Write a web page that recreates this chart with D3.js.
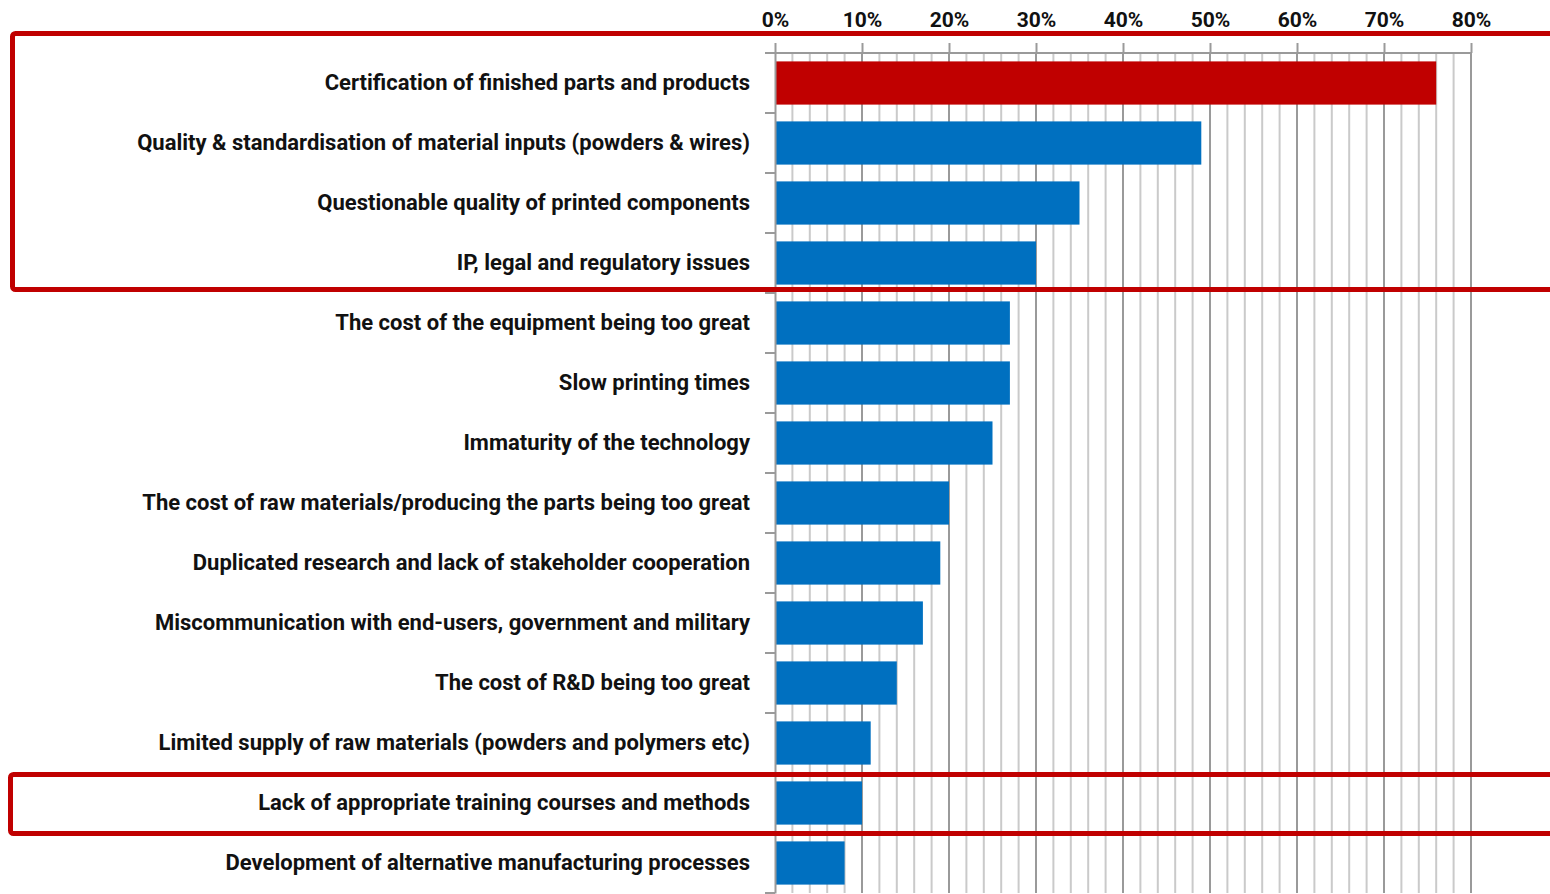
<!DOCTYPE html>
<html>
<head>
<meta charset="utf-8">
<script src="https://cdn.jsdelivr.net/npm/d3@7"></script>
<style>
  body{margin:0;background:#fff;overflow:hidden;}
  text{font-family:Roboto,"Liberation Sans",sans-serif;font-weight:bold;fill:#111;}
</style>
</head>
<body>
<div id="chart"></div>
<script>
// barriers, top to bottom
var categories=["Certification of finished parts and products",
  "Quality & standardisation of material inputs (powders & wires)",
  "Questionable quality of printed components",
  "IP, legal and regulatory issues",
  "The cost of the equipment being too great",
  "Slow printing times",
  "Immaturity of the technology",
  "The cost of raw materials/producing the parts being too great",
  "Duplicated research and lack of stakeholder cooperation",
  "Miscommunication with end-users, government and military",
  "The cost of R&D being too great",
  "Limited supply of raw materials (powders and polymers etc)",
  "Lack of appropriate training courses and methods",
  "Development of alternative manufacturing processes"];
var values=[76,49,35,30,27,27,25,20,19,17,14,11,10,8];
var tickValues=[0,10,20,30,40,50,60,70,80];
var highlighted=[0];          // bars drawn in red
var boxGroups=[[0,3],[12,12]]; // rows framed in red

var W=1550,H=894;
var pLeft=775,pRight=1471,pTop=53,pBottom=893;

var svg=d3.select("#chart").append("svg").attr("width",W).attr("height",H);

var x=d3.scaleLinear().domain([0,80]).range([pLeft,pRight]);
var y=d3.scaleBand().domain(categories).range([pTop,pBottom]).paddingInner(0.28).paddingOuter(0.14);
var yb=d3.scaleBand().domain(categories).range([pTop,pBottom]);

// gridlines every 2%
var minor=d3.range(2,81,2);
svg.selectAll(".grid").data(minor).enter().append("line")
  .attr("x1",d=>x(d)).attr("x2",d=>x(d))
  .attr("y1",pTop).attr("y2",pBottom)
  .attr("stroke",d=>d%10==0?"#9a9a9a":"#cacaca")
  .attr("stroke-width",2);

// bars
svg.selectAll(".bar").data(values).enter().append("rect")
  .attr("x",x(0))
  .attr("y",(d,i)=>y(categories[i]))
  .attr("width",d=>x(d)-x(0))
  .attr("height",y.bandwidth())
  .attr("fill",(d,i)=>highlighted.indexOf(i)>=0?"#c00000":"#0070c0");

// top axis
var xAxis=d3.axisTop(x).tickValues(tickValues).tickFormat(d=>d+"%").tickSize(10).tickSizeOuter(0);
var gx=svg.append("g").attr("transform","translate(0,"+pTop+")").call(xAxis);
gx.select(".domain").attr("stroke","#9a9a9a").attr("stroke-width",2).attr("d","M"+(pLeft-10)+",0H"+pRight);
gx.selectAll(".tick line").attr("stroke","#9a9a9a").attr("stroke-width",2);
gx.selectAll(".tick text").attr("y",-26).attr("dy",0).style("font-size","21px").style("fill","#111");

// left axis
var yAxis=d3.axisLeft(yb).tickSize(0).tickPadding(25);
var gy=svg.append("g").attr("transform","translate("+pLeft+",0)").call(yAxis);
gy.select(".domain").attr("stroke","#9a9a9a").attr("stroke-width",2);
gy.selectAll(".tick text").style("font-size","22px").style("fill","#111").attr("dy","0.32em");
svg.selectAll(".ytk").data(categories).enter().append("line")
  .attr("x1",pLeft-10).attr("x2",pLeft)
  .attr("y1",d=>yb(d)+yb.bandwidth())
  .attr("y2",d=>yb(d)+yb.bandwidth())
  .attr("stroke","#9a9a9a").attr("stroke-width",2);

// red frames
boxGroups.forEach(function(g,k){
  var t=yb(categories[g[0]]), b=yb(categories[g[1]])+yb.bandwidth();
  if(k==0){t=t-19.5;b=b-3.5;}else{t=t+1.5;b=b+0.5;}
  var lx=k==0?12.5:10.5;
  svg.append("rect").attr("x",lx).attr("y",t).attr("width",W+20-lx).attr("height",b-t)
    .attr("rx",3).attr("fill","none").attr("stroke","#c00000").attr("stroke-width",5);
});
</script>
</body>
</html>
